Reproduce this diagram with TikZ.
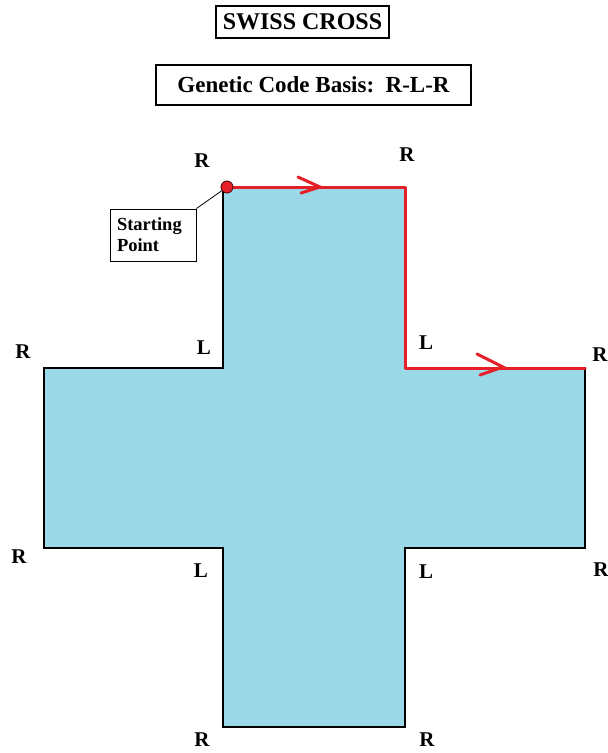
\documentclass[tikz,border=0pt]{standalone}
\usepackage{fontspec}
\setmainfont{Liberation Serif}
\definecolor{crossblue}{RGB}{155,216,232}
\definecolor{pathred}{RGB}{230,32,40}
\begin{document}
\begin{tikzpicture}[x=1pt,y=-1pt,
  lbl/.style={font=\bfseries\fontsize{21}{25}\selectfont, inner sep=0pt},
  titlebox/.style={draw=black, line width=1.3pt, inner sep=0pt, font=\bfseries},
  outline/.style={draw=black, line width=2.3pt, line join=miter},
  redpath/.style={draw=pathred, line width=3pt, line cap=round, line join=round},
  barb/.style={draw=pathred, line width=3pt, line cap=round}]
\useasboundingbox (0,0) rectangle (608,753);
\fill[white] (0,0) rectangle (608,753);

% corners of the cross
\coordinate (c1) at (223,187);
\coordinate (c2) at (405,187);
\coordinate (c3) at (405,368);
\coordinate (c4) at (585,368);
\coordinate (c5) at (585,548);
\coordinate (c6) at (405,548);
\coordinate (c7) at (405,727);
\coordinate (c8) at (223,727);
\coordinate (c9) at (223,548);
\coordinate (c10) at (44,548);
\coordinate (c11) at (44,368);
\coordinate (c12) at (223,368);

\path[outline, fill=crossblue] (c1) -- (c2) -- (c3) -- (c4) -- (c5) -- (c6) -- (c7) -- (c8) -- (c9) -- (c10) -- (c11) -- (c12) -- cycle;

% titles
\node[titlebox, minimum width=173pt, minimum height=32pt, font=\bfseries\fontsize{24}{28}\selectfont] (title) at (302.5,22) {SWISS CROSS};
\node[titlebox, minimum width=315pt, minimum height=40pt, font=\bfseries\fontsize{23}{26}\selectfont] (basis) at (313.5,85) {Genetic Code Basis:\ \ R-L-R};

% red path
\coordinate (start) at (227,187);
\path[redpath] (start) -- (c2) -- (c3) -- (c4);
\coordinate (a1) at (320,187);
\coordinate (a2) at (503,367);
\draw[barb] (298,177) -- (a1) -- (301,193);
\draw[barb] (477,354) -- (a2) -- (480,375);

% starting point
\node[draw=black, line width=1pt, text width=72pt, inner sep=7pt, minimum height=52pt, align=left,
      font=\bfseries\fontsize{18.5}{21}\selectfont] (sp) at (153,235) {Starting\\Point};
\node[circle, fill=pathred, draw=black!70!red, line width=0.8pt, minimum size=12pt, inner sep=0pt] (dot) at (start) {};
\draw[black, line width=0.8pt] (sp.north east) -- (dot);

% labels
\node[lbl] (r1) at (202,161) {R};
\node[lbl] (r2) at (407,155) {R};
\node[lbl] (l1) at (204,348) {L};
\node[lbl] (l2) at (426,343) {L};
\node[lbl] (r3) at (23,352) {R};
\node[lbl] (r4) at (600,355) {R};
\node[lbl] (r5) at (19,557) {R};
\node[lbl] (l3) at (201,571) {L};
\node[lbl] (l4) at (426,572) {L};
\node[lbl] (r6) at (601,570) {R};
\node[lbl] (r7) at (202,740) {R};
\node[lbl] (r8) at (427,740) {R};
\end{tikzpicture}
\end{document}
